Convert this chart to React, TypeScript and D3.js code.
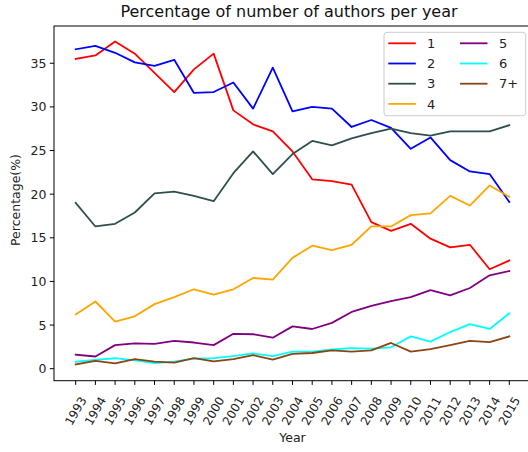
import React from "react";
import * as d3 from "d3";

const years = [1993, 1994, 1995, 1996, 1997, 1998, 1999, 2000, 2001, 2002, 2003, 2004, 2005, 2006, 2007, 2008, 2009, 2010, 2011, 2012, 2013, 2014, 2015];
const s1 = [35.5, 35.9, 37.5, 36.1, 33.9, 31.7, 34.3, 36.1, 29.6, 28.0, 27.2, 24.9, 21.7, 21.5, 21.1, 16.8, 15.8, 16.6, 14.9, 13.9, 14.2, 11.4, 12.4];
const s2 = [36.6, 37.0, 36.2, 35.1, 34.7, 35.4, 31.6, 31.7, 32.8, 29.8, 34.5, 29.5, 30.0, 29.8, 27.7, 28.5, 27.6, 25.2, 26.5, 23.9, 22.6, 22.3, 19.1];
const s3 = [19.0, 16.3, 16.6, 17.9, 20.1, 20.3, 19.8, 19.2, 22.4, 24.9, 22.3, 24.6, 26.1, 25.6, 26.4, 27.0, 27.5, 27.0, 26.7, 27.2, 27.2, 27.2, 27.9];
const s4 = [6.2, 7.7, 5.4, 6.0, 7.4, 8.2, 9.1, 8.5, 9.1, 10.4, 10.2, 12.7, 14.1, 13.6, 14.2, 16.3, 16.3, 17.6, 17.8, 19.8, 18.7, 21.0, 19.7];
const s5 = [1.6, 1.4, 2.7, 2.9, 2.85, 3.2, 3.0, 2.7, 4.0, 3.95, 3.55, 4.85, 4.55, 5.25, 6.5, 7.2, 7.75, 8.2, 9.0, 8.4, 9.25, 10.7, 11.2];
const s6 = [0.8, 1.0, 1.2, 0.95, 0.65, 0.8, 1.15, 1.2, 1.45, 1.75, 1.45, 1.95, 1.95, 2.2, 2.35, 2.3, 2.45, 3.7, 3.1, 4.2, 5.1, 4.55, 6.35];
const s7 = [0.5, 0.9, 0.6, 1.1, 0.8, 0.7, 1.2, 0.85, 1.1, 1.55, 1.05, 1.7, 1.8, 2.1, 1.95, 2.1, 2.95, 1.95, 2.25, 2.7, 3.2, 3.05, 3.7];
const seriesNames = ["1", "2", "3", "4", "5", "6", "7+"];
const seriesColors = ["#ff0000", "#0000ff", "#2f4f4f", "#ffa500", "#800080", "#00ffff", "#8b4513"];
const yTicks = [0, 5, 10, 15, 20, 25, 30, 35];
const title = "Percentage of number of authors per year";
const xLabel = "Year";
const yLabel = "Percentage(%)";

const W = 528;
const H = 452;
const L = 54, R = 531, T = 26, B = 380.7;
const font = "DejaVu Sans, sans-serif";

export default function App() {
  const series = [s1, s2, s3, s4, s5, s6, s7];
  const x = d3.scaleLinear().domain([1991.9, 2016.1]).range([L, R]);
  const y = d3.scaleLinear().domain([-1.375, 39.27]).range([B, T]);
  const line = d3.line<number>().x((_, i) => x(years[i])).y((d) => y(d));

  const legX = 384, legY = 32.3, legW = 141.7, legH = 83.4;
  const rowY = (r: number) => 43.3 + r * 20.2;

  return (
    <svg width={W} height={H} style={{ position: "absolute", left: 0, top: 0, background: "#fff" }} fontFamily={font}>
      <rect x={0} y={0} width={W} height={H} fill="#fff" />
      <text x={289} y={17} fontSize={16} textAnchor="middle" fill="#111">{title}</text>
      {series.map((s, k) => (
        <path key={k} d={line(s) || ""} fill="none" stroke={seriesColors[k]} strokeWidth={1.8} strokeLinejoin="round" strokeLinecap="square" />
      ))}
      <rect x={L} y={T} width={R - L} height={B - T} fill="none" stroke="#000" strokeWidth={1} />
      {yTicks.map((t) => (
        <g key={t}>
          <line x1={L - 4.2} x2={L} y1={y(t)} y2={y(t)} stroke="#000" strokeWidth={1} />
          <text x={L - 7.5} y={y(t)} dy="0.36em" fontSize={12.5} textAnchor="end" fill="#222">{t}</text>
        </g>
      ))}
      {years.map((yr) => (
        <g key={yr}>
          <line x1={x(yr)} x2={x(yr)} y1={B} y2={B + 4.2} stroke="#000" strokeWidth={1} />
          <text transform={`translate(${x(yr)},${411}) rotate(-60)`} fontSize={12} textAnchor="middle" dy="0.35em" fill="#222">{yr}</text>
        </g>
      ))}
      <text x={292.5} y={442} fontSize={12.5} textAnchor="middle" fill="#222">{xLabel}</text>
      <text transform={`translate(${16},${200}) rotate(-90)`} fontSize={12.5} textAnchor="middle" dy="0.35em" fill="#222">{yLabel}</text>
      <rect x={legX} y={legY} width={legW} height={legH} rx={3} ry={3} fill="#fff" fillOpacity={0.8} stroke="#cccccc" strokeWidth={1} />
      {seriesNames.map((n, k) => {
        const col = k < 4 ? 0 : 1;
        const row = k < 4 ? k : k - 4;
        const hx = col === 0 ? 388.3 : 460;
        const tx = col === 0 ? 427 : 499;
        const ry = rowY(row);
        return (
          <g key={n}>
            <line x1={hx} x2={hx + 27.5} y1={ry} y2={ry} stroke={seriesColors[k]} strokeWidth={1.8} />
            <text x={tx} y={ry} dy="0.36em" fontSize={13} fill="#222">{n}</text>
          </g>
        );
      })}
    </svg>
  );
}
